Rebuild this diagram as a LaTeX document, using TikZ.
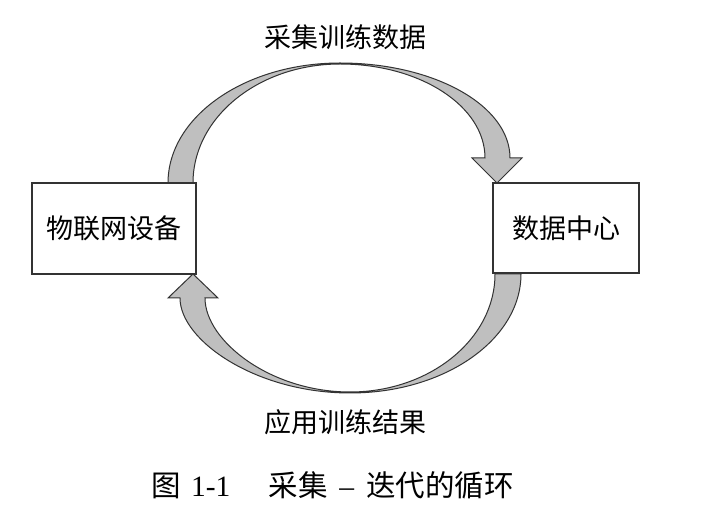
\documentclass[tikz,border=0pt]{standalone}
\usepackage{fontspec}
\setmainfont{Liberation Serif}
\newfontfamily\cjk{Noto Sans CJK SC}
\begin{document}
\begin{tikzpicture}[x=1pt,y=-1pt,
  box/.style={draw=black!80, fill=white, line width=1.2pt, inner sep=0pt,
    font=\cjk\fontsize{27}{30}\selectfont},
  lbl/.style={inner sep=0pt, font=\cjk\fontsize{27}{30}\selectfont},
  blockarrow/.style={draw=black!80, fill=black!25, line width=1pt, line join=miter}]
\fill[white] (0,0) rectangle (702,526);
\useasboundingbox (0,0) rectangle (702,526);
% top block arrow
\path[blockarrow] (168,183) .. controls (168,116.7) and (245,63) .. (340,63)
  .. controls (434,63) and (510,105.5) .. (510,158)
  -- (522,158) -- (497,183) -- (472,158) -- (485,158)
  .. controls (485,106) and (420,64) .. (340,64)
  .. controls (259,64) and (193,117) .. (193,183) -- cycle;
% bottom block arrow
\path[blockarrow] (521,274) .. controls (521,339.7) and (444.4,393) .. (350,393)
  .. controls (256,393) and (180,340.5) .. (180,298)
  -- (168,298) -- (193,274) -- (218,298) -- (205,298)
  .. controls (205,340.5) and (270,392) .. (350,392)
  .. controls (430,392) and (495,339) .. (495,274) -- cycle;
\node[box, minimum width=164pt, minimum height=91pt] (iot) at (114,228.5) {物联网设备};
\node[box, minimum width=146pt, minimum height=90pt] (dc) at (566,228) {数据中心};
\node[lbl] (collect) at (345,37) {采集训练数据};
\node[lbl] (apply) at (345,422) {应用训练结果};
\node[inner sep=0pt, anchor=west, font=\fontsize{29.5}{32}\selectfont] (cap) at (151,485)
  {{\cjk 图}\hspace{0.35em}1-1\hspace{1.3em}{\cjk 采集}\hspace{0.4em}–\hspace{0.4em}{\cjk 迭代的循环}};
\end{tikzpicture}
\end{document}
